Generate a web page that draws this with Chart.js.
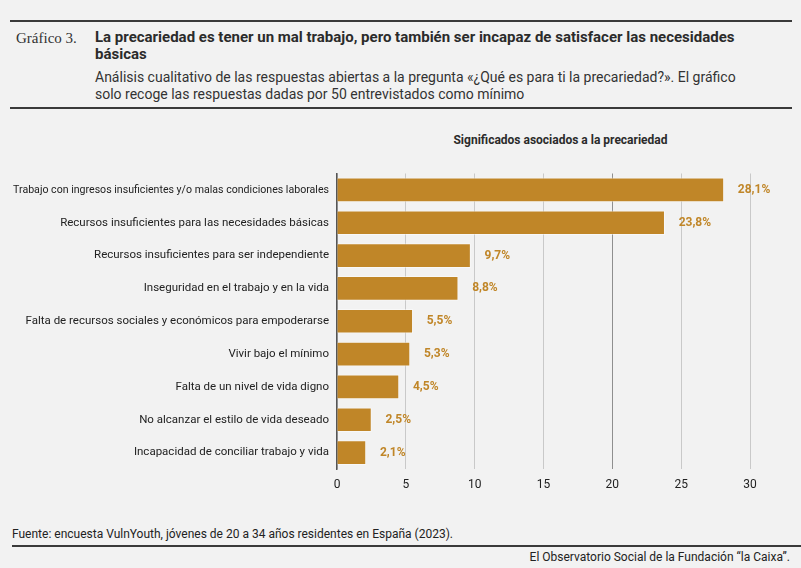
<!DOCTYPE html>
<html>
<head>
<meta charset="utf-8">
<script src="https://cdn.jsdelivr.net/npm/chart.js@4.4.0/dist/chart.umd.min.js"></script>
<style>
    html, body { margin: 0; padding: 0; }
    body {
        width: 801px; height: 568px; background: #f2f2f2; position: relative;
        overflow: hidden; font-family: 'Roboto', sans-serif; color: #2b2b2b;
    }
    .rule { position: absolute; height: 2px; background: #3a3a3a; }
    .num { position: absolute; left: 16px; top: 30px; font-family: 'Liberation Serif', serif; font-size: 15px; color: #333; }
    .title { position: absolute; left: 95px; top: 29px; width: 672px; font-weight: bold; font-size: 15px; line-height: 17px; color: #2b2b2b; }
    .sub { position: absolute; left: 95px; top: 69px; width: 670px; font-size: 14px; line-height: 17px; color: #333; }
    .ctitle { position: absolute; left: 337px; width: 447px; top: 133px; text-align: center; font-weight: bold; font-size: 12px; color: #2b2b2b; }
    .src { position: absolute; left: 12px; top: 527px; font-size: 12px; color: #222; }
    .org { position: absolute; right: 11px; top: 550px; font-size: 12px; color: #222; }
    #wrap { position: absolute; left: 0; top: 160px; width: 801px; height: 340px; }
</style>
</head>
<body>
<div class="rule" style="left:10px; width:782px; top:20px;"></div>
<div class="num">Gráfico 3.</div>
<div class="title">La precariedad es tener un mal trabajo, pero también ser incapaz de satisfacer las necesidades básicas</div>
<div class="sub">Análisis cualitativo de las respuestas abiertas a la pregunta «¿Qué es para ti la precariedad?». El gráfico solo recoge las respuestas dadas por 50 entrevistados como mínimo</div>
<div class="rule" style="left:10px; width:782px; top:107px;"></div>
<div class="ctitle">Significados asociados a la precariedad</div>
<div id="wrap"><canvas id="chart"></canvas></div>
<div class="src">Fuente: encuesta VulnYouth, jóvenes de 20 a 34 años residentes en España (2023).</div>
<div class="rule" style="left:12px; width:789px; top:545px;"></div>
<div class="org">El Observatorio Social de la Fundación “la Caixa”.</div>
<script>
const categories = [
    'Trabajo con ingresos insuficientes y/o malas condiciones laborales',
    'Recursos insuficientes para las necesidades básicas',
    'Recursos insuficientes para ser independiente',
    'Inseguridad en el trabajo y en la vida',
    'Falta de recursos sociales y económicos para empoderarse',
    'Vivir bajo el mínimo',
    'Falta de un nivel de vida digno',
    'No alcanzar el estilo de vida deseado',
    'Incapacidad de conciliar trabajo y vida'
];
const values = [28.1, 23.8, 9.7, 8.8, 5.5, 5.3, 4.5, 2.5, 2.1];
const xTicks = [0, 5, 10, 15, 20, 25, 30];

const barColor = '#c08628';

// value labels at the end of each bar
const valueLabels = {
    id: 'valueLabels',
    afterDatasetsDraw(chart) {
        const ctx = chart.ctx;
        const meta = chart.getDatasetMeta(0);
        ctx.save();
        ctx.font = "bold 12px 'Roboto', sans-serif";
        ctx.fillStyle = barColor;
        ctx.textBaseline = 'middle';
        ctx.textAlign = 'left';
        meta.data.forEach((bar, i) => {
            ctx.fillText(values[i].toFixed(1).replace('.', ',') + '%', bar.x + 14, bar.y);
        });
        ctx.restore();
    }
};

new Chart(document.getElementById('chart'), {
    type: 'bar',
    data: {
        labels: categories,
        datasets: [{
            data: values,
            backgroundColor: barColor,
            borderColor: 'rgba(255, 255, 255, 0.45)',
            borderWidth: 1,
            borderSkipped: 'left',
            barThickness: 24
        }]
    },
    options: {
        indexAxis: 'y',
        responsive: true,
        maintainAspectRatio: false,
        animation: false,
        layout: { padding: { left: 0, right: 51, top: 13.5, bottom: 0 } },
        plugins: {
            legend: { display: false },
            tooltip: { enabled: false }
        },
        scales: {
            x: {
                min: 0,
                max: 30,
                afterBuildTicks: scale => { scale.ticks = xTicks.map(v => ({ value: v })); },
                afterFit: scale => { scale.height = 31; },
                grid: {
                    color: ctx => ctx.tick && ctx.tick.value === 20 ? '#8f8f8f' : '#c9c9c9',
                    drawTicks: false
                },
                border: { display: false },
                ticks: {
                    padding: 9,
                    color: '#222',
                    font: { family: "'Roboto', sans-serif", size: 12 }
                }
            },
            y: {
                afterFit: scale => { scale.width = 337; },
                grid: { display: false },
                border: { display: true, color: '#555', width: 1.5 },
                ticks: {
                    padding: 0,
                    color: '#222',
                    // the long first label is set tighter so it fits, as in the original
                    font: ctx => ({ family: "'Roboto', sans-serif", size: ctx.index === 0 ? 10.6 : 11.5 })
                }
            }
        }
    },
    plugins: [valueLabels]
});
</script>
</body>
</html>
